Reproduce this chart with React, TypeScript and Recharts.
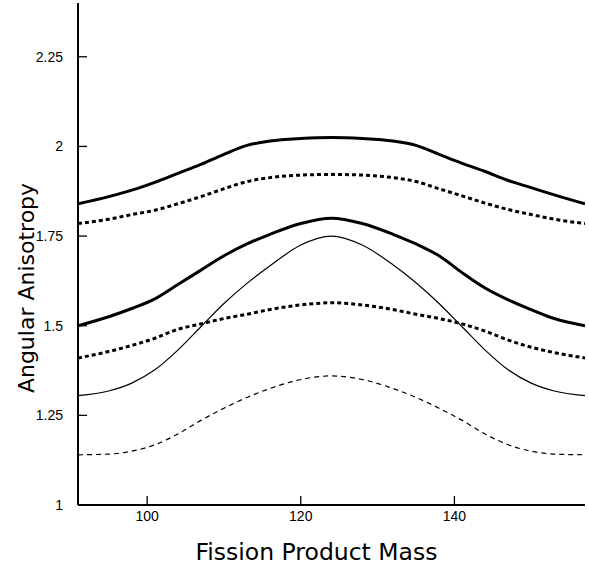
import { Line, LineChart, XAxis, YAxis } from 'recharts';

// fission product mass sample points
const masses = [91, 95, 98, 101, 104, 107, 110, 113, 116, 120, 124, 128, 132, 135, 138, 141, 144, 147, 150, 153, 157];

// thick solid, top
const upperSolid = [1.84, 1.86, 1.878, 1.9, 1.925, 1.95, 1.978, 2.003, 2.015, 2.022, 2.025, 2.022, 2.015, 2.003, 1.978, 1.953, 1.93, 1.905, 1.885, 1.865, 1.84];
// thick dotted, upper
const upperDotted = [1.785, 1.797, 1.81, 1.822, 1.84, 1.86, 1.882, 1.902, 1.913, 1.92, 1.922, 1.92, 1.913, 1.902, 1.882, 1.862, 1.842, 1.824, 1.81, 1.797, 1.785];
// thick solid, middle
const middleSolid = [1.5, 1.525, 1.548, 1.575, 1.615, 1.655, 1.695, 1.728, 1.755, 1.785, 1.8, 1.785, 1.755, 1.728, 1.695, 1.648, 1.605, 1.572, 1.545, 1.52, 1.5];
// thin solid, peaked
const thinSolid = [1.305, 1.318, 1.34, 1.377, 1.432, 1.497, 1.562, 1.618, 1.667, 1.725, 1.75, 1.725, 1.67, 1.62, 1.562, 1.497, 1.432, 1.377, 1.34, 1.318, 1.305];
// thick dotted, lower
const lowerDotted = [1.41, 1.428, 1.445, 1.465, 1.49, 1.505, 1.52, 1.532, 1.545, 1.558, 1.564, 1.558, 1.545, 1.532, 1.52, 1.505, 1.485, 1.46, 1.44, 1.425, 1.41];
// thin dashed, bottom
const thinDashed = [1.14, 1.142, 1.15, 1.168, 1.198, 1.236, 1.27, 1.3, 1.325, 1.35, 1.36, 1.35, 1.325, 1.3, 1.27, 1.236, 1.198, 1.168, 1.15, 1.142, 1.14];

const yTicks = [1, 1.25, 1.5, 1.75, 2, 2.25];
const xTicks = [100, 120, 140];

const data = masses.map((m, i) => ({
  mass: m,
  a: upperSolid[i],
  b: upperDotted[i],
  c: middleSolid[i],
  d: thinSolid[i],
  e: lowerDotted[i],
  f: thinDashed[i],
}));

const tickFont = { fill: '#000', fontSize: 14, fontFamily: 'Liberation Sans, Arial, sans-serif' };
const titleFont = 'DejaVu Sans, sans-serif';

const YTitle = ({ viewBox }: any) => {
  const cx = viewBox.x + 26;
  const cy = viewBox.y + viewBox.height / 2 + 34;
  return (
    <text x={cx} y={cy} transform={`rotate(-90 ${cx} ${cy})`} textAnchor="middle" dominantBaseline="central"
      fontSize={22} fontFamily={titleFont} fill="#000">
      Angular Anisotropy
    </text>
  );
};

const XTitle = ({ viewBox }: any) => (
  <text x={viewBox.x + viewBox.width / 2 - 15} y={viewBox.y + 55} textAnchor="middle"
    fontSize={23.5} fontFamily={titleFont} fill="#000">
    Fission Product Mass
  </text>
);

export default function App() {
  return (
    <div style={{ position: 'absolute', left: 0, top: 0, background: '#fff' }}>
      <LineChart width={589} height={568} data={data} margin={{ top: 3, right: 4, left: 0, bottom: 0 }}>
        <XAxis
          dataKey="mass"
          type="number"
          domain={[91, 157]}
          ticks={xTicks}
          allowDataOverflow
          height={63}
          tickSize={-9}
          tickMargin={15}
          tick={tickFont}
          stroke="#000"
          axisLine={{ stroke: '#000', strokeWidth: 2 }}
          tickLine={{ stroke: '#000', strokeWidth: 1.3 }}
          label={<XTitle />}
        />
        <XAxis xAxisId="top" orientation="top" dataKey="mass" type="number" domain={[91, 157]} height={0}
          tick={false} tickLine={false} axisLine={{ stroke: '#000', strokeWidth: 1.5 }} />
        <YAxis
          type="number"
          domain={[1, 2.4]}
          ticks={yTicks}
          allowDataOverflow
          width={78}
          tickSize={-9}
          tickMargin={24}
          tick={tickFont}
          stroke="#000"
          axisLine={{ stroke: '#000', strokeWidth: 2 }}
          tickLine={{ stroke: '#000', strokeWidth: 1.3 }}
          label={<YTitle />}
        />
        <YAxis yAxisId="right" orientation="right" type="number" domain={[1, 2.4]} width={0}
          tick={false} tickLine={false} axisLine={{ stroke: '#000', strokeWidth: 1.5 }} />
        <Line type="monotone" dataKey="a" stroke="#000" strokeWidth={3} dot={false} isAnimationActive={false} />
        <Line type="monotone" dataKey="b" stroke="#000" strokeWidth={3} strokeDasharray="4 3" dot={false} isAnimationActive={false} />
        <Line type="monotone" dataKey="c" stroke="#000" strokeWidth={3} dot={false} isAnimationActive={false} />
        <Line type="monotone" dataKey="d" stroke="#000" strokeWidth={1.2} dot={false} isAnimationActive={false} />
        <Line type="monotone" dataKey="e" stroke="#000" strokeWidth={3} strokeDasharray="4 3" dot={false} isAnimationActive={false} />
        <Line type="monotone" dataKey="f" stroke="#000" strokeWidth={1.2} strokeDasharray="5 4" dot={false} isAnimationActive={false} />
      </LineChart>
    </div>
  );
}
